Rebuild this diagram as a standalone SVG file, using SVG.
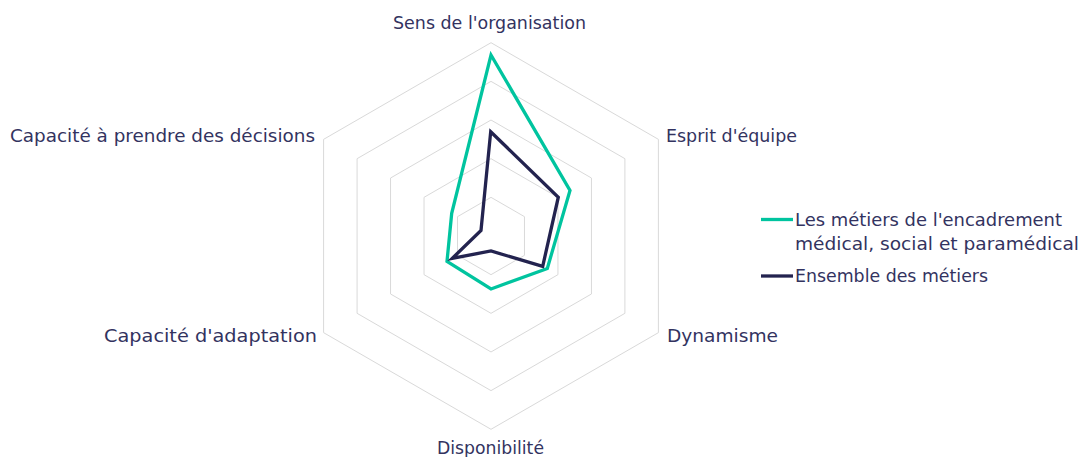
<svg xmlns="http://www.w3.org/2000/svg" width="1081" height="457" viewBox="0 0 1081 457">
<style>
.grid{fill:none;stroke:#d9d9d9;stroke-width:1}
.lbl{font-family:"DejaVu Sans","Liberation Sans",sans-serif;font-size:17px;fill:#33335f}
.s1{fill:none;stroke:#00c49f;stroke-width:3.3;stroke-linejoin:miter}
.s2{fill:none;stroke:#23234f;stroke-width:3.3;stroke-linejoin:miter}
</style>
<rect width="1081" height="457" fill="#ffffff"/>
<g id="grid">
<polygon class="grid" points="491,197.34 524.48,216.67 524.48,255.33 491,274.66 457.52,255.33 457.52,216.67"/>
<polygon class="grid" points="491,158.68 557.96,197.34 557.96,274.66 491,313.32 424.04,274.66 424.04,197.34"/>
<polygon class="grid" points="491,120.02 591.44,178.01 591.44,293.99 491,351.98 390.56,293.99 390.56,178.01"/>
<polygon class="grid" points="491,81.36 624.92,158.68 624.92,313.32 491,390.64 357.08,313.32 357.08,158.68"/>
<polygon class="grid" points="491,42.7 658.4,139.35 658.4,332.65 491,429.3 323.6,332.65 323.6,139.35"/>
</g>
<g id="axis-labels">
<text id="lbl-sens" class="lbl" x="393" y="29" textLength="193" lengthAdjust="spacingAndGlyphs">Sens de l'organisation</text>
<text id="lbl-esprit" class="lbl" x="666" y="142" textLength="131" lengthAdjust="spacingAndGlyphs">Esprit d'équipe</text>
<text id="lbl-dyn" class="lbl" x="667" y="342" textLength="111" lengthAdjust="spacingAndGlyphs">Dynamisme</text>
<text id="lbl-dispo" class="lbl" x="437" y="454" textLength="107" lengthAdjust="spacingAndGlyphs">Disponibilité</text>
<text id="lbl-adapt" class="lbl" x="104" y="342" textLength="213" lengthAdjust="spacingAndGlyphs">Capacité d'adaptation</text>
<text id="lbl-decis" class="lbl" x="10" y="142" textLength="305" lengthAdjust="spacingAndGlyphs">Capacité à prendre des décisions</text>
</g>
<g id="series">
<polygon id="serie-encadrement" class="s1" points="491,55 570,190.4 547.3,268.5 491,289 447,261.4 451.7,213.3"/>
<polygon id="serie-ensemble" class="s2" points="490.7,131.7 558.3,197.2 542.7,266.3 491,251 452.3,258.3 481,230.5"/>
</g>
<g id="legend">
<g id="legend-1">
<line x1="761" y1="219.5" x2="793" y2="219.5" class="s1"/>
<text class="lbl" x="795" y="226" textLength="267" lengthAdjust="spacingAndGlyphs">Les métiers de l'encadrement</text>
<text class="lbl" x="795" y="250" textLength="284" lengthAdjust="spacingAndGlyphs">médical, social et paramédical</text>
</g>
<g id="legend-2">
<line x1="761" y1="276" x2="793" y2="276" class="s2"/>
<text class="lbl" x="795" y="282" textLength="193" lengthAdjust="spacingAndGlyphs">Ensemble des métiers</text>
</g>
</g>
</svg>
